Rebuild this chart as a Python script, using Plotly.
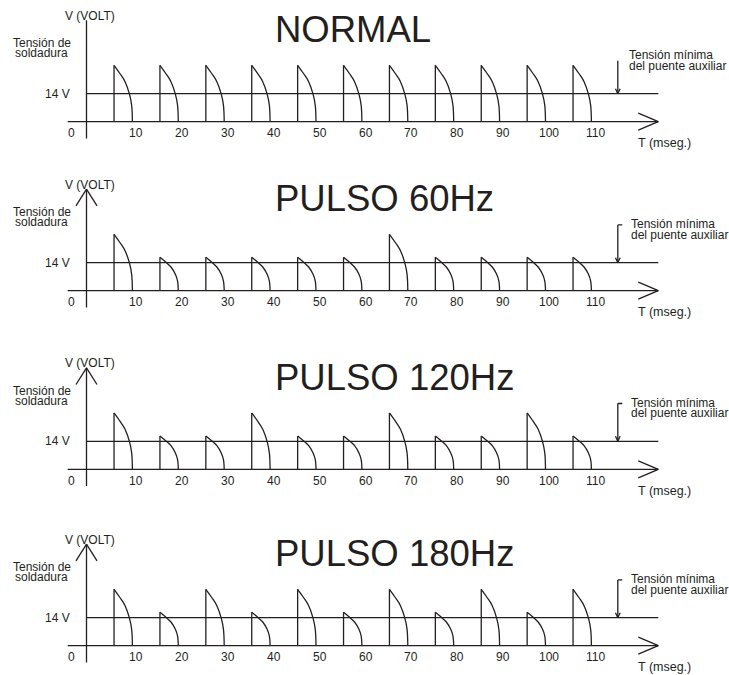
import plotly.graph_objects as go

# ---------------- data ----------------
titles = ["NORMAL", "PULSO 60Hz", "PULSO 120Hz", "PULSO 180Hz"]
pulse_start_ms = [6, 16, 26, 36, 46, 56, 66, 76, 86, 96, 106]
pulse_width_ms = 4
peaks_normal = [28.2, 28.2, 28.2, 28.2, 28.2, 28.2, 28.2, 28.2, 28.2, 28.2, 28.2]
peaks_60hz = [28.2, 16.7, 16.7, 16.7, 16.7, 16.7, 28.2, 16.7, 16.7, 16.7, 16.7]
peaks_120hz = [28.2, 16.7, 16.7, 28.2, 16.7, 16.7, 28.2, 16.7, 16.7, 28.2, 16.7]
peaks_180hz = [28.2, 16.7, 28.2, 16.7, 28.2, 16.7, 28.2, 16.7, 28.2, 16.7, 28.2]
panel_peaks = [peaks_normal, peaks_60hz, peaks_120hz, peaks_180hz]
tick_ms = [10, 20, 30, 40, 50, 60, 70, 80, 90, 100, 110]
threshold_v = 14
# decay profile of one pulse (fraction of width, fraction of peak)
profile_s = [0.0, 0.33, 0.6, 0.84, 0.96, 1.0]
profile_v = [1.0, 0.85, 0.71, 0.49, 0.29, 0.0]

# ---------------- layout constants ----------------
W, H = 729, 675
X0_PX = 86.5           # pixel of t = 0
PX_PER_MS = 4.59
PX_PER_V = 2.0
axis_px = [121.7, 290.7, 469.3, 645.7]   # pixel row of each time axis
V_LO, V_HI = -14, 60
INK = "#231f20"
FONT = "Liberation Sans, Arial, sans-serif"
LW = 1.3


def t_of(px):
    """pixel column -> time value"""
    return (px - X0_PX) / PX_PER_MS


def dt(px):
    return px / PX_PER_MS


def dv(px):
    return px / PX_PER_V


x_lo = t_of(0)
x_hi = t_of(W)

fig = go.Figure()
layout = dict(width=W, height=H, margin=dict(l=0, r=0, t=0, b=0),
              paper_bgcolor="white", plot_bgcolor="white", showlegend=False,
              hovermode=False)
shapes = []
annotations = []

for k in range(4):
    n = "" if k == 0 else str(k + 1)
    xr, yr = "x" + n, "y" + n
    A = axis_px[k]
    v_hi = min(V_HI, (A - 1) / PX_PER_V)
    bottom = 1 - (A + (-V_LO) * PX_PER_V) / H
    top = 1 - (A - v_hi * PX_PER_V) / H
    layout["xaxis" + n] = dict(range=[x_lo, x_hi], domain=[0, 1], visible=False,
                               anchor=yr, fixedrange=True)
    layout["yaxis" + n] = dict(range=[V_LO, v_hi], domain=[max(bottom, 0), min(top, 1)],
                               visible=False, anchor=xr, fixedrange=True)

    peaks = panel_peaks[k]
    rx, ry, cx, cy = [], [], [], []
    for s0, p in zip(pulse_start_ms, peaks):
        rx += [s0, s0, None]
        ry += [0, p, None]
        cx += [s0 + pulse_width_ms * s for s in profile_s] + [None]
        cy += [p * v for v in profile_v] + [None]
    fig.add_trace(go.Scatter(x=rx, y=ry, mode="lines", xaxis=xr, yaxis=yr,
                             line=dict(color=INK, width=LW)))
    fig.add_trace(go.Scatter(x=cx, y=cy, mode="lines", xaxis=xr, yaxis=yr,
                             line=dict(color=INK, width=LW, shape="spline", smoothing=1.0)))

    def line(x0, y0, x1, y1):
        shapes.append(dict(type="line", xref=xr, yref=yr, x0=x0, y0=y0, x1=x1, y1=y1,
                           line=dict(color=INK, width=LW)))

    # time axis with open arrow
    x_end = t_of(658.3)
    line(t_of(67.7), 0, x_end, 0)
    line(x_end - dt(20), dv(8.5), x_end, 0)
    line(x_end - dt(20), -dv(8.5), x_end, 0)
    # threshold line
    line(0, threshold_v, x_end, threshold_v)
    # voltage axis
    y_top = dv(101.5)
    line(0, -dv(16.8), 0, y_top)
    if k > 0:
        line(-dt(10.5), y_top - dv(16.7), 0, y_top)
        line(dt(10.5), y_top - dv(16.7), 0, y_top)
    # arrow to the threshold line
    xa = t_of(617.8)
    a_top = dv(61) if k == 0 else dv(65.8)
    line(xa, a_top, xa, threshold_v)
    line(xa - dt(2.3), threshold_v + dv(5), xa, threshold_v)
    line(xa + dt(2.3), threshold_v + dv(5), xa, threshold_v)
    if k > 0:
        line(xa, a_top, xa + dt(4.5), a_top)

    def text(x, y, s, size, xanchor="left", yanchor="middle"):
        annotations.append(dict(x=x, y=y, xref=xr, yref=yr, text=s, showarrow=False,
                                xanchor=xanchor, yanchor=yanchor,
                                font=dict(family=FONT, size=size, color=INK)))

    text(t_of(273), dv(92), titles[k], 36.5)
    text(t_of(63), dv(106), "V (VOLT)", 12)
    text(t_of(41.5), dv(78.4), "Tensión de", 12, xanchor="center")
    text(t_of(41.5), dv(68.4), "soldadura", 12, xanchor="center")
    text(t_of(71.5), threshold_v, "14 V", 12, xanchor="right")
    text(t_of(71), -dv(11.3), "0", 12, xanchor="center")
    for tv in tick_ms:
        text(tv + dt(3.6), -dv(11.6), str(tv), 12, xanchor="center")
    text(t_of(693), -dv(21.5), "T (mseg.)", 12.5, xanchor="right")
    tx = t_of(626.7) if k == 0 else t_of(628.5)
    text(tx, dv(66.7), "Tensión mínima", 12)
    text(tx, dv(56), "del puente auxiliar", 12)

layout["shapes"] = shapes
layout["annotations"] = annotations
fig.update_layout(**layout)
fig.write_html(
    "out.html",
    config={"displayModeBar": False, "staticPlot": True},
    post_script="document.body.style.margin='0';document.body.style.overflow='hidden';",
)
